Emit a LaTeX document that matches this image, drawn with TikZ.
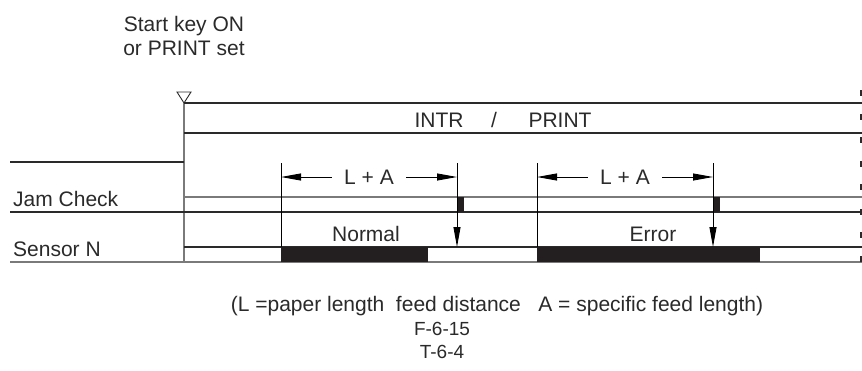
\documentclass[tikz,border=0pt]{standalone}
\usepackage{fontspec}
\setmainfont{Liberation Sans}
\usetikzlibrary{arrows.meta,positioning}
\definecolor{lineblack}{HTML}{2A2A2A}
\definecolor{linegray}{HTML}{7A7A7A}
\definecolor{pulseblack}{HTML}{231F20}

\tikzset{
  lbl/.style={font=\fontsize{21bp}{24bp}\selectfont, text=lineblack, inner sep=0pt},
  smalllbl/.style={font=\fontsize{19bp}{22bp}\selectfont, text=lineblack, inner sep=0pt},
  darkline/.style={draw=lineblack, line width=1.1bp},
  grayline/.style={draw=linegray, line width=1.3bp},
  pulse/.style={fill=pulseblack},
  dimarrow/.style={draw=black, line width=0.9bp, -{Triangle[length=20bp,width=7bp]}},
  downarrow/.style={draw=black, line width=0.9bp, -{Triangle[length=20bp,width=7bp]}},
  edgemark/.style={draw=lineblack, line width=2bp}
}

\begin{document}
\begin{tikzpicture}[x=1bp,y=-1bp]
  \useasboundingbox (0,0) rectangle (862,370);

  % key points of the chart
  \coordinate (trig) at (184,103);
  \coordinate (nStart) at (281,163);
  \coordinate (nCheck) at (457,163);
  \coordinate (eStart) at (537,163);
  \coordinate (eCheck) at (713,163);

  % start trigger
  \node[lbl, align=center, anchor=base] (startkey) at (184,55) {Start key ON\\or PRINT set};
  \draw[draw=lineblack, line width=0.9bp, fill=white] (trig) -- ++(-7,-11) -- ++(14,0) -- cycle;
  \draw[grayline] (trig) -- (184,262);

  % INTR / PRINT band
  \draw[darkline] (trig) -- (862,103);
  \draw[darkline] (184,133) -- (862,133);
  \node[lbl, anchor=base] (intr) at (439,127) {INTR};
  \node[lbl, anchor=base] (slash) at (494,127) {/};
  \node[lbl, anchor=base] (print) at (560,127) {PRINT};

  % signal rows
  \draw[darkline] (10,162) -- (184,162);
  \node[lbl, anchor=base west] (jamlbl) at (13,206) {Jam Check};
  \draw[grayline, line width=1.1bp] (184,197) -- (862,197);
  \draw[darkline] (10,212) -- (862,212);
  \node[lbl, anchor=base west] (senslbl) at (13,256) {Sensor N};
  \draw[darkline] (184,247) -- (862,247);
  \draw[grayline] (10,262) -- (862,262);

  % pulses
  \fill[pulse] (457,197) rectangle (464,212);
  \fill[pulse] (713,197) rectangle (720,212);
  \fill[pulse] (281,247) rectangle (428,262);
  \fill[pulse] (537,247) rectangle (760,262);

  % normal case
  \draw[draw=black, line width=0.9bp] (nStart) -- (281,247);
  \node[lbl, inner xsep=12bp] (la1) at (369,177) {L + A};
  \draw[dimarrow] (la1.west) -- (la1.west -| nStart);
  \draw[dimarrow] (la1.east) -- (la1.east -| nCheck);
  \draw[downarrow] (nCheck) -- (457,247);
  \node[lbl, anchor=base] (normal) at (366,241.5) {Normal};

  % error case
  \draw[draw=black, line width=0.9bp] (eStart) -- (537,247);
  \node[lbl, inner xsep=12bp] (la2) at (625,177) {L + A};
  \draw[dimarrow] (la2.west) -- (la2.west -| eStart);
  \draw[dimarrow] (la2.east) -- (la2.east -| eCheck);
  \draw[downarrow] (eCheck) -- (713,247);
  \node[lbl, anchor=base] (error) at (653,241.5) {Error};

  % clipped marks at the right edge
  \foreach \y in {93,117,140,164,187,212,235,259}
    \draw[edgemark] (861,\y-3) -- (861,\y+3);

  % captions
  \node[lbl, anchor=base] (legend) at (497,311) {(L =paper length\ \ feed distance\ \ \ A = specific feed length)};
  \node[smalllbl, anchor=base] (fig) at (442,335) {F-6-15};
  \node[smalllbl, anchor=base] (tab) at (442,358) {T-6-4};
\end{tikzpicture}
\end{document}
